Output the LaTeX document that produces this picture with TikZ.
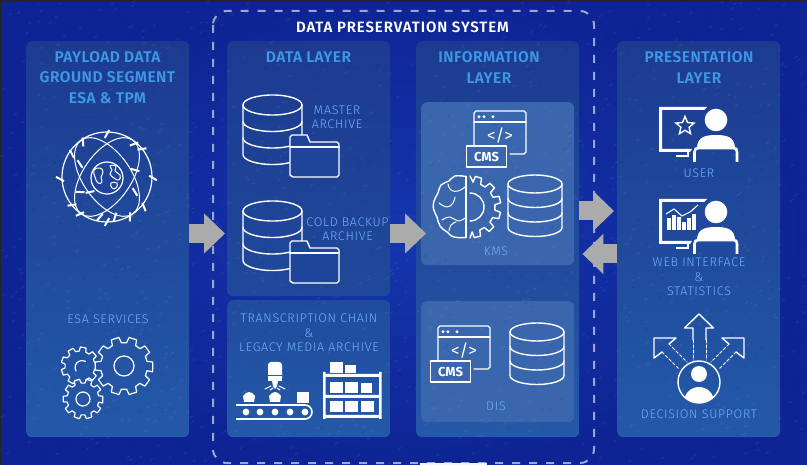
\documentclass[tikz,border=0pt]{standalone}
\usepackage{fontspec}
\setmainfont{Fira Sans}
\newfontfamily\headf[LetterSpace=3]{Fira Sans SemiBold}
\newfontfamily\titlef[LetterSpace=6]{Fira Sans SemiBold}
\newfontfamily\labf[LetterSpace=5.5]{Fira Sans Light}
\usetikzlibrary{arrows.meta,calc,shapes.geometric}
\definecolor{headc}{HTML}{3F98E6}
\definecolor{labc}{HTML}{70B2F2}
\definecolor{pantop}{HTML}{1C3B90}
\definecolor{panbot}{HTML}{2459A8}
\definecolor{innerc}{HTML}{3A66AE}
\definecolor{bgin}{HTML}{1536AE}
\definecolor{bgout}{HTML}{0E2494}
\definecolor{dashc}{HTML}{9AA6D0}
\definecolor{arrowc}{HTML}{ABABAB}
\definecolor{folderc}{HTML}{1E459A}
\tikzset{
  panel/.style={rectangle,rounded corners=6pt,inner sep=0pt,top color=pantop,bottom color=panbot,anchor=north west},
  innerpanel/.style={rectangle,rounded corners=6pt,inner sep=0pt,fill=innerc,anchor=north west},
  heading/.style={text=headc,align=center,font=\headf\fontsize{15.5}{20.5}\selectfont,inner sep=0pt},
  thinlabel/.style={text=labc,align=center,font=\labf\fontsize{12.5}{14.3}\selectfont,inner sep=0pt},
  flow/.style={line width=19pt,arrowc,-{Triangle[length=21pt,width=39pt]}},
  icon/.style={white,line width=1.4pt,line join=round,line cap=round},
  iconthin/.style={white,line width=1pt,line join=round,line cap=round},
}
% database: cx, rx, ytop, ry, step
\newcommand{\dbicon}[5]{%
  \pgfmathsetmacro{\dbA}{#3+#4}
  \pgfmathsetmacro{\dbB}{\dbA+#5}
  \pgfmathsetmacro{\dbC}{\dbB+#5}
  \pgfmathsetmacro{\dbD}{\dbC+#5}
  \pgfmathsetmacro{\dbL}{#1-#2}
  \pgfmathsetmacro{\dbR}{#1+#2}
  \draw[icon] (#1,\dbA) ellipse [x radius=#2,y radius=#4];
  \draw[icon] (\dbL,\dbA) -- (\dbL,\dbD) arc[start angle=180,end angle=0,x radius=#2,y radius=#4] -- (\dbR,\dbA);
  \draw[icon] (\dbL,\dbB) arc[start angle=180,end angle=0,x radius=#2,y radius=#4];
  \draw[icon] (\dbL,\dbC) arc[start angle=180,end angle=0,x radius=#2,y radius=#4];
}
\newcommand{\foldericon}[1]{%
  \begin{scope}[shift={(0,#1)}]
  \draw[icon,fill=folderc] (292,135) -- (307,135) -- (310,142) -- (337,142) -- (339,144) -- (339,175) -- (337,177) -- (293,177) -- (290,175) -- (290,137) -- cycle;
  \draw[icon] (290,147) -- (339,147);
  \end{scope}
}
\newcommand{\windowicon}[2]{%
  \begin{scope}[shift={(#1,#2)}]
  \draw[icon] (474,145) -- (474,113) -- (476,111) -- (524,111) -- (526,113) -- (526,152) -- (524,154) -- (510,154);
  \draw[icon] (474,122) -- (526,122);
  \foreach \dotx in {479,484,493}{\fill[white] (\dotx,116.7) circle[radius=1.6];}
  \node[text=white,font=\fontsize{17}{17}\selectfont,inner sep=0pt] (code#2) at (500,136) {</>};
  \draw[icon,line width=1.6pt] (466.5,146) rectangle (506.5,167);
  \node[text=white,font=\fontsize{13}{13}\selectfont\bfseries,inner sep=0pt] (cms#2) at (486.5,157) {CMS};
  \end{scope}
}
\newcommand{\gearicon}[7]{% cx cy rout rin teeth hole fill
  \begin{scope}[shift={(#1,#2)}]
  \pgfmathsetmacro{\gstep}{360/#5}
  \draw[icon,line width=1.2pt,fill=#7] (\gstep*0.32:#3) \foreach \gi in {1,...,#5}{
     -- ({\gstep*(\gi-1)+\gstep*0.32}:#4) -- ({\gstep*(\gi-1)+\gstep*0.68}:#4)
     -- ({\gstep*(\gi-1)+\gstep*0.78}:#3) -- ({\gstep*(\gi-1)+\gstep*1.22}:#3)
     } -- cycle;
  \ifdim #6pt>0pt \draw[icon,line width=1.2pt] (0,0) circle[radius=#6]; \fi
  \end{scope}
}
\newcommand{\personmon}[1]{%
  \begin{scope}[shift={(0,#1)}]
  \fill[white] (659,107) -- (707,107) -- (704,110) -- (662,110) -- (662,149) -- (692,149) -- (690,152) -- (659,152) -- cycle;
  \draw[white,line width=2pt] (688,152) -- (688,156.5) -- (676,156.5);
  \fill[white] (716,120) circle[radius=11.3];
  \fill[white] (697,147) .. controls (698,137) and (705,135) .. (716,135) .. controls (727,135) and (734,137) .. (735,147) -- cycle;
  \draw[white,line width=2.6pt] (694.5,162) -- (694.5,152) .. controls (694.5,149) and (696,148) .. (699,148) -- (733,148) .. controls (736,148) and (737,149) .. (737,152) -- (737,162);
  \end{scope}
}
\begin{document}
\begin{tikzpicture}[x=1pt,y=-1pt]
\useasboundingbox (0,0) rectangle (807,465);
% background
\shade[inner color=bgin,outer color=bgout] (0,0) rectangle (807,465);
\fill[black!85] (0,0) rectangle (807,2);
\fill[black!85] (0,0) rectangle (1,465);
% panels
\node[panel,minimum width=163pt,minimum height=396pt] (pg) at (26,41) {};
\node[panel,minimum width=163pt,minimum height=255pt,bottom color=pantop!55!panbot] (data) at (227,41) {};
\node[panel,minimum width=163pt,minimum height=137pt,top color=pantop!45!panbot] (legacy) at (227,300) {};
\node[panel,minimum width=163pt,minimum height=396pt] (info) at (416,41) {};
\node[panel,minimum width=163pt,minimum height=396pt] (pres) at (617,41) {};
\node[innerpanel,minimum width=153pt,minimum height=163pt] (kms) at (421,102) {};
\node[innerpanel,minimum width=153pt,minimum height=121pt] (dis) at (421,301) {};
% speckle texture
\pgfmathsetseed{4242}
\foreach \sp in {1,...,900}{
  \pgfmathsetmacro{\spx}{rnd*807}
  \pgfmathsetmacro{\spy}{2+rnd*463}
  \draw[white,opacity=0.08,line width=0.8pt] (\spx,\spy) -- ++(3,-2);
}
\foreach \sp in {1,...,500}{
  \pgfmathsetmacro{\spx}{rnd*807}
  \pgfmathsetmacro{\spy}{2+rnd*463}
  \draw[black,opacity=0.08,line width=1pt] (\spx,\spy) -- ++(3,-2);
}
% system frame
\coordinate (frameA) at (213,11);
\coordinate (frameB) at (594,463);
\draw[dashc,line width=2pt,dash pattern=on 8pt off 9pt,rounded corners=14pt] (frameA) rectangle (frameB);
\fill[white!88!dashc] (420,462.5) rectangle (487,465);
\node[text=white,font=\titlef\fontsize{15}{16}\selectfont,inner sep=0pt] (systitle) at (402.5,27.5) {DATA PRESERVATION SYSTEM};
% arrows
\coordinate (ya) at (0,233.5);
\coordinate (yb) at (0,211);
\coordinate (yc) at (0,254);
\draw[flow,shorten >=2pt] (pg.east |- ya) -- (data.west |- ya);
\draw[flow,shorten >=-10pt] (data.east |- ya) -- (info.west |- ya);
\draw[flow,shorten >=3pt] (info.east |- yb) -- (pres.west |- yb);
\draw[flow,shorten >=3pt] (pres.west |- yc) -- (info.east |- yc);
% headings
\node[heading] (h1) at (107.5,77.5) {PAYLOAD DATA\\GROUND SEGMENT\\ESA \& TPM};
\node[heading] (h2) at (308.5,57) {DATA LAYER};
\node[heading] (h3) at (489,67.5) {INFORMATION\\LAYER};
\node[heading] (h4) at (699,67.5) {PRESENTATION\\LAYER};
% thin labels
\node[thinlabel] (l1) at (337,117) {MASTER\\ARCHIVE};
\node[thinlabel] (l2) at (347.5,229.5) {COLD BACKUP\\ARCHIVE};
\node[thinlabel] (l3) at (108,319) {ESA SERVICES};
\node[thinlabel] (l4) at (309,333) {TRANSCRIPTION CHAIN\\\&\\LEGACY MEDIA ARCHIVE};
\node[thinlabel] (l5) at (496,251) {KMS};
\node[thinlabel] (l6) at (496,406) {DIS};
\node[thinlabel] (l7) at (699,173) {USER};
\node[thinlabel] (l8) at (699,277) {WEB INTERFACE\\\&\\STATISTICS};
\node[thinlabel] (l9) at (699,414) {DECISION SUPPORT};
% databases with folders
\dbicon{272.5}{29.5}{95}{10}{16.5}
\foldericon{0}
\dbicon{272.5}{29.5}{201}{10}{16.5}
\foldericon{106}
% globe
\begin{scope}[shift={(107,177)}]
  \draw[iconthin,line width=1.2pt] (0,0) circle[radius=45];
  \draw[iconthin,rotate=55] (0,0) ellipse [x radius=45,y radius=24];
  \draw[iconthin,rotate=-55] (0,0) ellipse [x radius=45,y radius=24];
  \fill[folderc] (0,1) circle[radius=16];
  \draw[iconthin,line width=1.2pt] (0,1) circle[radius=16];
  \draw[iconthin] plot[smooth cycle,tension=0.8] coordinates {(-13,-7) (-7,-9) (-4,-5) (-6,0) (-5,5) (-9,6) (-12,0)};
  \draw[iconthin] plot[smooth cycle,tension=0.8] coordinates {(3,-11) (9,-11) (8,-6) (13,-2) (12,3) (7,1) (3,-3) (5,-7)};
  \draw[iconthin] plot[smooth cycle,tension=0.8] coordinates {(4,6) (10,6) (9,11) (5,11)};
  \foreach \sx/\sy in {0/-43,-24/-35,27/-33,35/-28,-35/-23,-27/-13,-47/2,46/1,28/-7,-27/15,-17/15,28/15,37/30,-35/28,-27/37,-7/40,8/40,23/40,0/45}{
    \pgfmathsetmacro{\sang}{atan2(\sy,\sx)+30}
    \draw[white,line width=2pt,line cap=butt] (\sx,\sy) ++(\sang:4.5) -- ++(\sang:-9);
  }
\end{scope}
% gears
\gearicon{80}{366}{19}{15}{9}{0}{none}
\draw[icon,line width=1.2pt] (76,371) arc[start angle=150,end angle=300,radius=7];
\gearicon{124}{366}{29}{23.5}{10}{10}{panbot!85!pantop}
\gearicon{83}{399}{20}{16}{10}{7}{panbot!85!pantop}
% conveyor
\draw[white,line width=1.6pt] (236,405) -- (305,405) arc[start angle=-90,end angle=90,radius=7] -- (236,419);
\foreach \rx in {246,260,275,290,305}{\fill[white] (\rx,412) circle[radius=3.4];}
\foreach \bx in {249,275}{
  \fill[white] (\bx-5,402) -- (\bx+5,402) -- (\bx+6,396) -- (\bx+3,393) -- (\bx,392) -- (\bx-3,393) -- (\bx-6,396) -- cycle;
}
\fill[white] (297,392) rectangle (309,403);
\fill[white,rounded corners=3pt] (268,381) -- (268,362) -- (282,362) -- (282,381) -- cycle;
\fill[white] (268,375) rectangle (282,381);
\draw[panbot,line width=0.8pt] (268,375) -- (282,375);
\fill[white] (272,381) -- (278,381) -- (277,386) -- (275,389) -- (273,386) -- cycle;
\draw[iconthin] (265,389) -- (271,386) (285,389) -- (279,386) (270,390) -- (273,388) (280,390) -- (277,388);
% shelf
\fill[white] (323,372) rectangle (325.5,419) (379,372) rectangle (381.5,419);
\fill[white] (323,374) rectangle (381,377) (323,395) rectangle (381,398) (323,415) rectangle (381,418);
\foreach \ax/\ay/\bx/\by in {330/362/343/373,345/365/356/373,330/382/343/393,345/382/358/393,361/383/372/393,330/401/343/412,345/401/358/412,361/401/374/412}{
  \fill[white] (\ax,\ay) rectangle (\bx,\by);
}
% KMS and DIS icons
\windowicon{0}{0}
\windowicon{-36}{215}
\dbicon{535}{27}{175}{9}{14.5}
\dbicon{537}{27}{323}{9}{14.5}
% brain
\draw[icon] plot[smooth,tension=0.7] coordinates {(466,176.5) (455,176) (449,181) (441,185) (438,193) (434,201) (433.5,209) (437,217) (440,226) (447,232) (454,237) (466,237.5)};
\draw[icon] (466,176.5) -- (466,237.5);
\draw[iconthin] plot[smooth,tension=0.8] coordinates {(448,184) (451,190) (458,191) (465,187)};
\draw[iconthin] plot[smooth,tension=0.8] coordinates {(439,203) (447,207) (453,203) (455,197)};
\draw[iconthin] plot[smooth,tension=0.8] coordinates {(442,220) (450,217) (458,221) (465,218)};
\draw[iconthin] plot[smooth,tension=0.8] coordinates {(449,231) (451,225) (456,222)};
% half gear
\begin{scope}[shift={(470,207)}]
  \draw[icon] (0,-31) \foreach \ta in {-74,-44,-14,16,46,76}{
      -- ({\ta-9}:25) -- ({\ta-6}:31) -- ({\ta+6}:31) -- ({\ta+9}:25)
    } -- (0,31);
  \draw[icon] (0,-14) arc[start angle=-90,end angle=90,radius=14];
\end{scope}
% persons at monitors
\personmon{0}
\node[star,star points=5,star point ratio=2.2,draw=white,line width=1.4pt,minimum size=19pt,inner sep=0pt] (staricon) at (685,126) {};
\personmon{92}
\foreach \cx/\ch in {669/12,674/15,679/13,684/8,689/12,694/16}{
  \fill[white] (\cx-2,230) rectangle (\cx+2,230-\ch);
}
\draw[white,line width=1.1pt] (666,214) -- (674,209) -- (682,216) -- (690,212) -- (698,205);
% decision support
\draw[icon] (699,382) circle[radius=21];
\fill[white] (699,374) circle[radius=8];
\begin{scope}
  \clip (699,382) circle[radius=21];
  \fill[white] (699,402) ellipse [x radius=15,y radius=15];
\end{scope}
\draw[icon] (693,340) -- (693,328) -- (684.5,328) -- (699,314) -- (713.5,328) -- (706,328) -- (706,340);
\draw[iconthin,dash pattern=on 3pt off 2pt] (693,340) -- (693,360) (706,340) -- (706,360);
\draw[icon] (669,344) -- (676,338) -- (654,338) -- (654,358) -- (662,352);
\draw[icon] (729,344) -- (722,338) -- (744,338) -- (744,358) -- (736,352);
\draw[iconthin,dash pattern=on 3pt off 2pt] (669,344) -- (687,362) (662,352) -- (679,369) (729,344) -- (711,362) (736,352) -- (719,369);
\end{tikzpicture}
\end{document}
